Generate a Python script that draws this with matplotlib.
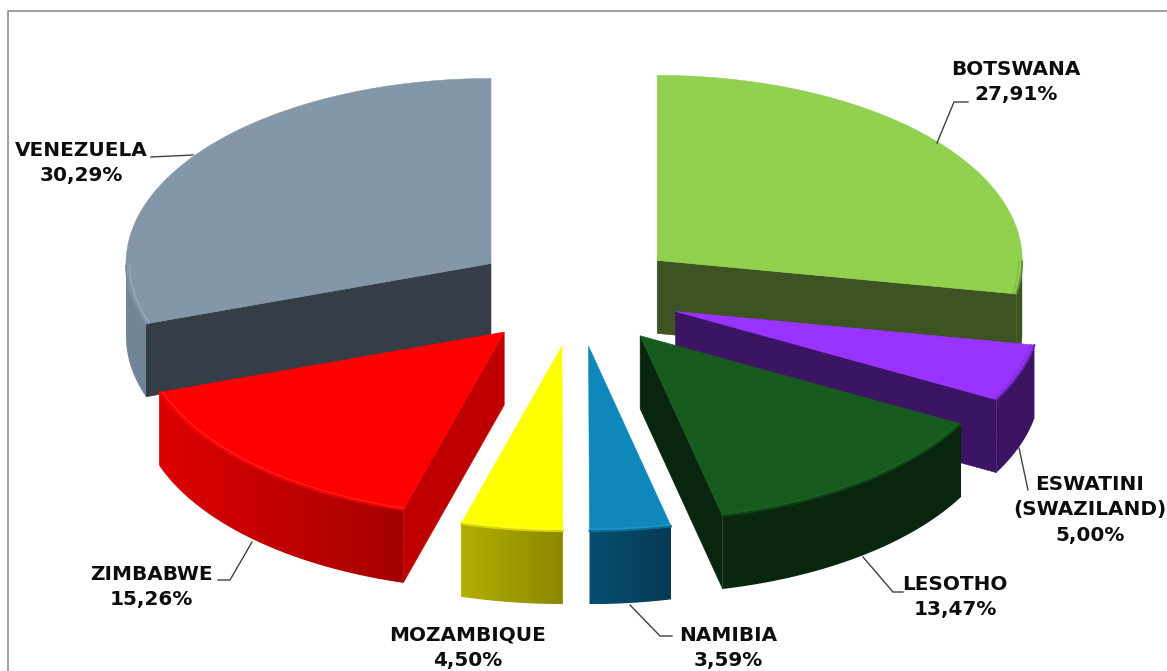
import numpy as np
import matplotlib
matplotlib.use('Agg')
import matplotlib.pyplot as plt
from matplotlib.colors import to_rgb
from matplotlib.patches import Polygon

countries = ['BOTSWANA', 'ESWATINI\n(SWAZILAND)', 'LESOTHO', 'NAMIBIA',
             'MOZAMBIQUE', 'ZIMBABWE', 'VENEZUELA']
shares = [27.91, 5.00, 13.47, 3.59, 4.50, 15.26, 30.29]

top_colors = ['#92d050', '#9933ff', '#165a1e', '#0e88bb', '#ffff00', '#ff0000', '#8497a8']
cut_colors = ['#3d5322', '#3c1464', '#08250d', '#054a68', '#a8a400', '#c00000', '#353d46']
rim_left = ['#3d5322', '#3c1464', '#08280e', '#064f70', '#b3af00', '#dc0000', '#728598']
rim_right = ['#3d5322', '#3c1464', '#08250d', '#063a56', '#8c8700', '#a60000', '#728598']
bevel_colors = ['#7aa845', '#7a28cc', '#1d6a26', '#2aa0d0', '#ffff50', '#ff3a3a', '#a4b8cc']

label_pos = [(1016, 82), (1090, 510), (955, 597), (728, 648),
             (468, 648), (151, 587), (81, 163)]
leaders = [[(937, 143), (954, 102), (968, 102)],
           [(1019, 448), (1028, 490)],
           [(863, 557), (893, 592), (903, 592)],
           [(630, 605), (660, 636), (672, 636)],
           [],
           [(252, 542), (230, 580), (218, 580)],
           [(151, 157), (193, 155)]]

# pie geometry in pixels
cx, cy = 576.5, 294
rx, ry = 365, 185
ex, ey = 105, 52.5
depth = 73


def blend(c1, c2, t):
    a, b = np.array(to_rgb(c1)), np.array(to_rgb(c2))
    return tuple(a + (b - a) * t)


def arc(x0, y0, a, fx=1.0):
    return x0 + rx * fx * np.sin(a), y0 - ry * fx * np.cos(a)


def draw_slice(ax, i, a0, a1, z):
    mid = (a0 + a1) / 2
    x0 = cx + ex * np.sin(mid)
    y0 = cy - ey * np.cos(mid)
    th = np.linspace(a0, a1, 120)
    xs, ys = arc(x0, y0, th)

    # cut faces, only those turned towards the viewer
    for a, normal in ((a0, a0 - np.pi / 2), (a1, a1 + np.pi / 2)):
        if np.cos(normal) < -0.01:
            xe, ye = arc(x0, y0, a)
            ax.fill([x0, xe, xe, x0], [y0, ye, ye + depth, y0 + depth],
                    color=cut_colors[i], lw=0.4, zorder=z)

    # outer rim, a left to right gradient clipped to the band
    front = np.cos(th) <= 0
    if front.sum() > 1:
        fx, fy = xs[front], ys[front]
        band = np.c_[np.r_[fx, fx[::-1]], np.r_[fy, fy[::-1] + depth]]
        clip = Polygon(band, closed=True, transform=ax.transData, fc='none', ec='none')
        ax.add_patch(clip)
        ramp = np.array([[blend(rim_left[i], rim_right[i], t) for t in np.linspace(0, 1, 64)]])
        im = ax.imshow(ramp, extent=(fx.min(), fx.max(), fy.max() + depth, fy.min()),
                       aspect='auto', zorder=z + 0.1, interpolation='bilinear')
        im.set_clip_path(clip)

    # top face with a soft bevel on the arc
    ax.fill(np.r_[x0, xs], np.r_[y0, ys], color=top_colors[i], lw=0.4, zorder=z + 0.2)
    if front.sum() > 1:
        ax.plot(xs[front], ys[front], color=blend(top_colors[i], rim_left[i], 0.5),
                lw=1.4, zorder=z + 0.3)
        bx, by = arc(x0, y0, th[front], 0.99)
        ax.plot(bx, by, color=bevel_colors[i], lw=1.0, alpha=0.55, zorder=z + 0.3)


fig = plt.figure(figsize=(11.67, 6.71), dpi=100, facecolor='white')
ax = fig.add_axes([0, 0, 1, 1])
ax.axis('off')

# chart frame, cut off by the screenshot on two sides
ax.plot([7.5, 7.5, 1167], [671, 10.5, 10.5], color='#8c8c8c', lw=1.2, zorder=1)

angles = np.radians(np.r_[0, np.cumsum(shares)] / sum(shares) * 360)
mids = (angles[:-1] + angles[1:]) / 2
order = np.argsort(cy - ey * np.cos(mids))
order = [i for i in order if i != 2] + [2]   # lesotho sits on top of its neighbours

for n, i in enumerate(order):
    draw_slice(ax, i, angles[i], angles[i + 1], 2 + n)

for name, val, pos, line in zip(countries, shares, label_pos, leaders):
    if line:
        ax.plot([p[0] for p in line], [p[1] for p in line],
                color='#404040', lw=1.0, zorder=20)
    txt = f'{name}\n{val:.2f}%'.replace('.', ',')
    ax.text(pos[0], pos[1], txt, ha='center', va='center', fontsize=14.4,
            fontweight='bold', family='DejaVu Sans', color='#0d0d0d',
            linespacing=1.42, zorder=21, clip_on=True)

ax.set_xlim(0, 1167)
ax.set_ylim(671, 0)
fig.savefig('out.png', dpi=100, facecolor='white')
